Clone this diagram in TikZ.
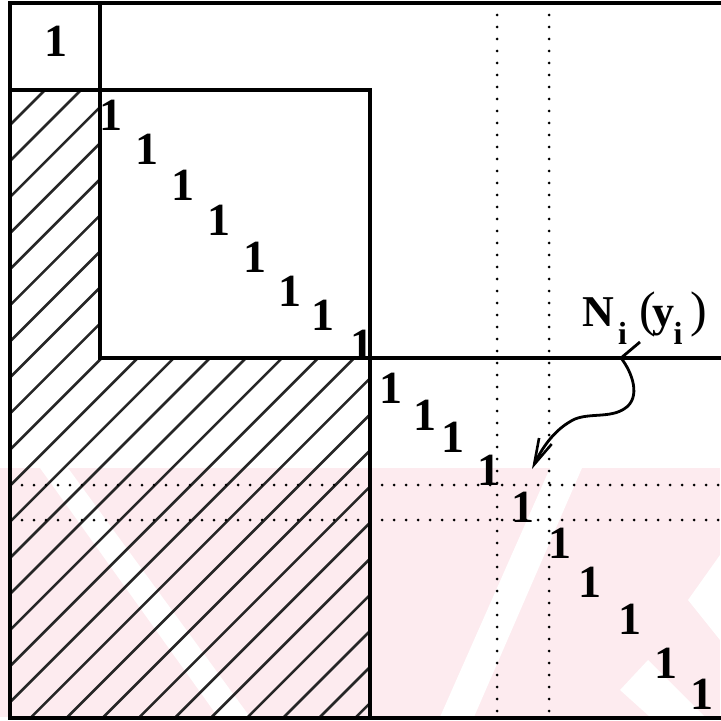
\documentclass[tikz,border=0pt]{standalone}
\usepackage{fontspec}
\setmainfont{Liberation Serif}
\usetikzlibrary{arrows.meta}
\definecolor{wmpink}{RGB}{253,235,239}
\tikzset{
  frameline/.style={line width=1.7pt, line cap=rect},
  hatchline/.style={line width=1.3pt, black!85},
  dotline/.style={line width=1.5pt, line cap=round, dash pattern=on 0pt off 6pt},
  one/.style={font=\fontsize{23}{23}\selectfont\bfseries, inner sep=0pt},
  lbl/.style={font=\fontsize{22}{22}\selectfont\bfseries, inner sep=0pt},
  curvearrow/.style={line width=1.4pt, -{Straight Barb[length=13pt,width=7pt,line width=1.3pt]}},
}
\newcommand{\lowsub}[1]{\raisebox{-9pt}{\fontsize{16}{16}\selectfont #1}}
\newcommand{\bigparen}[1]{{\fontsize{25}{25}\selectfont\mdseries #1}}
\begin{document}
\begin{tikzpicture}[x=0.5pt,y=-0.5pt]
\useasboundingbox (0,0) rectangle (720,721);
% faint watermark
\fill[wmpink] (0,468) rectangle (720,717);
\fill[white] (40,468) -- (68,468) -- (250,717) -- (218,717) -- cycle;
\fill[white] (440,717) -- (474,717) -- (582,468) -- (550,468) -- cycle;
\fill[white] (620,690) -- (648,660) -- (705,717) -- (650,717) -- cycle;
\fill[white] (720,555) -- (720,640) -- (688,600) -- cycle;
% hatching
\begin{scope}
  \clip (10,90) -- (100,90) -- (100,358) -- (370,358) -- (370,718) -- (10,718) -- cycle;
  \foreach \k in {0,...,26} {
    \pgfmathsetmacro\c{135+36.08*\k}
    \draw[hatchline] (\c,0) -- (0,\c);
  }
\end{scope}
% dotted guide lines
\draw[dotline] (497,3) -- (497,718);
\draw[dotline] (549,3) -- (549,718);
\draw[dotline] (10,485) -- (720,485);
\draw[dotline] (10,520) -- (720,520);
% frame and blocks
\draw[frameline] (720,3) -- (10,3) -- (10,718) -- (720,718);
\draw[frameline] (100,3) -- (100,358) -- (720,358);
\draw[frameline] (10,90) -- (370,90) -- (370,718);
% entries
\node[one] (d0) at (56,41) {1};
\foreach \i/\x/\y in {1/111/115, 2/147/149, 3/183/185, 4/219/220, 5/255/257, 6/290/291, 7/323/315, 8/362/345,
  9/391/388, 10/425/415, 11/453/437, 12/489/470, 13/523/507, 14/560/543, 15/590/582, 16/630/619, 17/666/663, 18/702/694} {
  \node[one] (d\i) at (\x,\y) {1};
}
% label and arrow
\node[lbl, anchor=base west] (lab) at (582,326) {N\kern2pt\lowsub{i}\kern6pt\bigparen{(}\kern-1.5pt y\kern-0.5pt\lowsub{i}\kern4pt\bigparen{)}};
\coordinate (lead) at (640,342);
\coordinate (tip) at (532,469);
\draw[curvearrow] (lead) -- (621,358) .. controls (632,372) and (642,398) .. (624,409)
  .. controls (610,418) and (590,413) .. (575,419) .. controls (556,428) and (543,446) .. (tip);
\end{tikzpicture}
\end{document}
